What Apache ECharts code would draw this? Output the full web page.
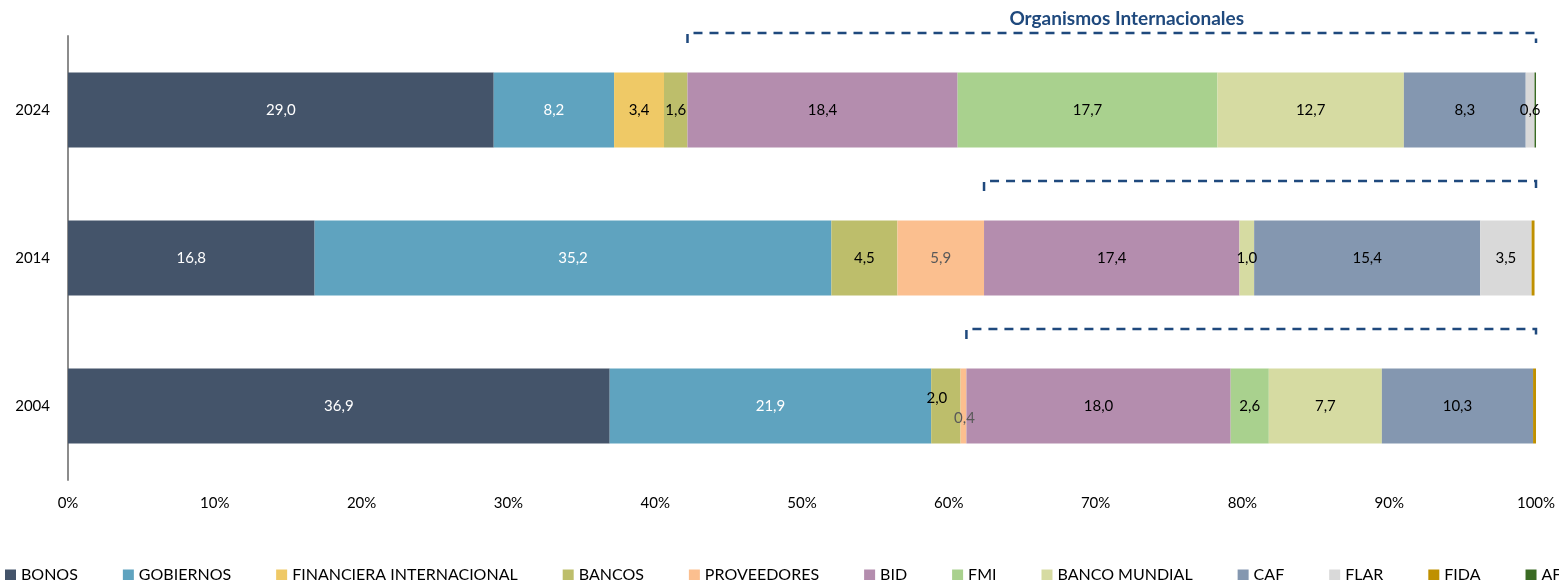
<!DOCTYPE html>
<html>
<head>
<meta charset="utf-8">
<script src="https://cdn.jsdelivr.net/npm/echarts@6/dist/echarts.min.js"></script>
<style>
  html, body { margin: 0; padding: 0; background: #fff; }
  #chart { width: 1559px; height: 580px; }
</style>
</head>
<body>
<div id="chart"></div>
<script>
// categorias (de abajo hacia arriba)
const years = ['2004', '2014', '2024']

// participacion por acreedor, en %
const bonos = [36.9, 16.8, 29.0]
const gobiernos = [21.9, 35.2, 8.2]
const financiera = [0, 0, 3.4]
const bancos = [2.0, 4.5, 1.6]
const proveedores = [0.4, 5.9, 0]
const bid = [18.0, 17.4, 18.4]
const fmi = [2.6, 0, 17.7]
const bancoMundial = [7.7, 1.0, 12.7]
const caf = [10.3, 15.4, 8.3]
const flar = [0, 3.5, 0.6]
const fida = [0.2, 0.2, 0]
const afd = [0, 0, 0.1]

const xTicks = [0, 10, 20, 30, 40, 50, 60, 70, 80, 90, 100]

const seriesDef = [
  { name: 'BONOS', data: bonos, color: '#44546A', label: '#ffffff' },
  { name: 'GOBIERNOS', data: gobiernos, color: '#5FA3BF', label: '#ffffff' },
  { name: 'FINANCIERA INTERNACIONAL', data: financiera, color: '#EFC966', label: '#000000' },
  { name: 'BANCOS', data: bancos, color: '#BDBE6B', label: '#000000' },
  { name: 'PROVEEDORES', data: proveedores, color: '#FBBF8F', label: '#595959' },
  { name: 'BID', data: bid, color: '#B48DAE', label: '#000000' },
  { name: 'FMI', data: fmi, color: '#A9D18E', label: '#000000' },
  { name: 'BANCO MUNDIAL', data: bancoMundial, color: '#D6DBA2', label: '#000000' },
  { name: 'CAF', data: caf, color: '#8497B0', label: '#000000' },
  { name: 'FLAR', data: flar, color: '#D9D9D9', label: '#000000' },
  { name: 'FIDA', data: fida, color: '#BF9000', label: null },
  { name: 'AFD', data: afd, color: '#3B6B24', label: null }
]

// etiquetas movidas a mano en el original
const labelTweaks = {
  'BANCOS-0': { offset: [-9, -8] },
  'PROVEEDORES-0': { offset: [1, 12] }
}

const fmt = v => v.toFixed(1).replace('.', ',')

// inicio del bloque de organismos internacionales = suma hasta PROVEEDORES
const orgStart = years.map((_, i) => bonos[i] + gobiernos[i] + financiera[i] + bancos[i] + proveedores[i])
const bracketData = years.map((_, i) => [orgStart[i], 100, i])

const font = 'Lato, "Open Sans", sans-serif'

const chart = echarts.init(document.getElementById('chart'))

const barSeries = seriesDef.map(s => ({
  name: s.name,
  type: 'bar',
  stack: 'total',
  barWidth: 75,
  itemStyle: { color: s.color },
  data: s.data.map((v, i) => {
    const item = { value: v }
    const tw = labelTweaks[s.name + '-' + i]
    if (tw) item.label = { offset: tw.offset }
    return item
  }),
  label: {
    show: s.label !== null,
    position: 'inside',
    color: s.label || '#000',
    fontFamily: font,
    fontSize: 15,
    formatter: p => (p.value > 0 ? fmt(p.value) : '')
  }
}))

const bracketSeries = {
  type: 'custom',
  name: 'brackets',
  clip: false,
  silent: true,
  encode: { x: [0, 1], y: 2 },
  data: bracketData,
  z: 10,
  renderItem: (params, api) => {
    const a = api.coord([api.value(0), api.value(2)])
    const b = api.coord([api.value(1), api.value(2)])
    const y = a[1] - 77
    const style = { stroke: '#1F497D', lineWidth: 2.5, lineDash: [9, 7], fill: null }
    const children = [
      { type: 'polyline', shape: { points: [[a[0], y + 10], [a[0], y], [b[0], y], [b[0], y + 10]] }, style: style }
    ]
    if (api.value(2) === years.length - 1) {
      children.push({
        type: 'text',
        x: (a[0] + b[0]) / 2 + 15,
        y: y - 14,
        style: {
          text: 'Organismos Internacionales',
          fill: '#1F497D',
          font: 'bold 19px ' + font,
          align: 'center',
          verticalAlign: 'middle'
        }
      })
    }
    return { type: 'group', children: children }
  }
}

const option = {
  animation: false,
  textStyle: { fontFamily: font },
  grid: { left: 68, right: 23, top: 36, bottom: 100, containLabel: false, outerBoundsMode: 'none' },
  legend: {
    data: seriesDef.map(s => s.name),
    left: 0,
    top: 562,
    width: 2400,
    icon: 'rect',
    itemWidth: 11,
    itemHeight: 11,
    itemGap: 45,
    textStyle: { color: '#000', fontSize: 16, fontFamily: font }
  },
  xAxis: {
    type: 'value',
    min: xTicks[0],
    max: xTicks[xTicks.length - 1],
    interval: xTicks[1] - xTicks[0],
    axisLine: { show: false },
    axisTick: { show: false },
    splitLine: { show: false },
    axisLabel: { color: '#000', fontSize: 15, margin: 16, formatter: '{value}%' }
  },
  yAxis: {
    type: 'category',
    data: years,
    axisLine: { show: true, lineStyle: { color: '#8C8C8C', width: 2 } },
    axisTick: { show: false },
    axisLabel: { color: '#000', fontSize: 15, margin: 18 }
  },
  series: barSeries.concat([bracketSeries])
}

chart.setOption(option)
window.addEventListener('resize', () => chart.resize())
</script>
</body>
</html>
